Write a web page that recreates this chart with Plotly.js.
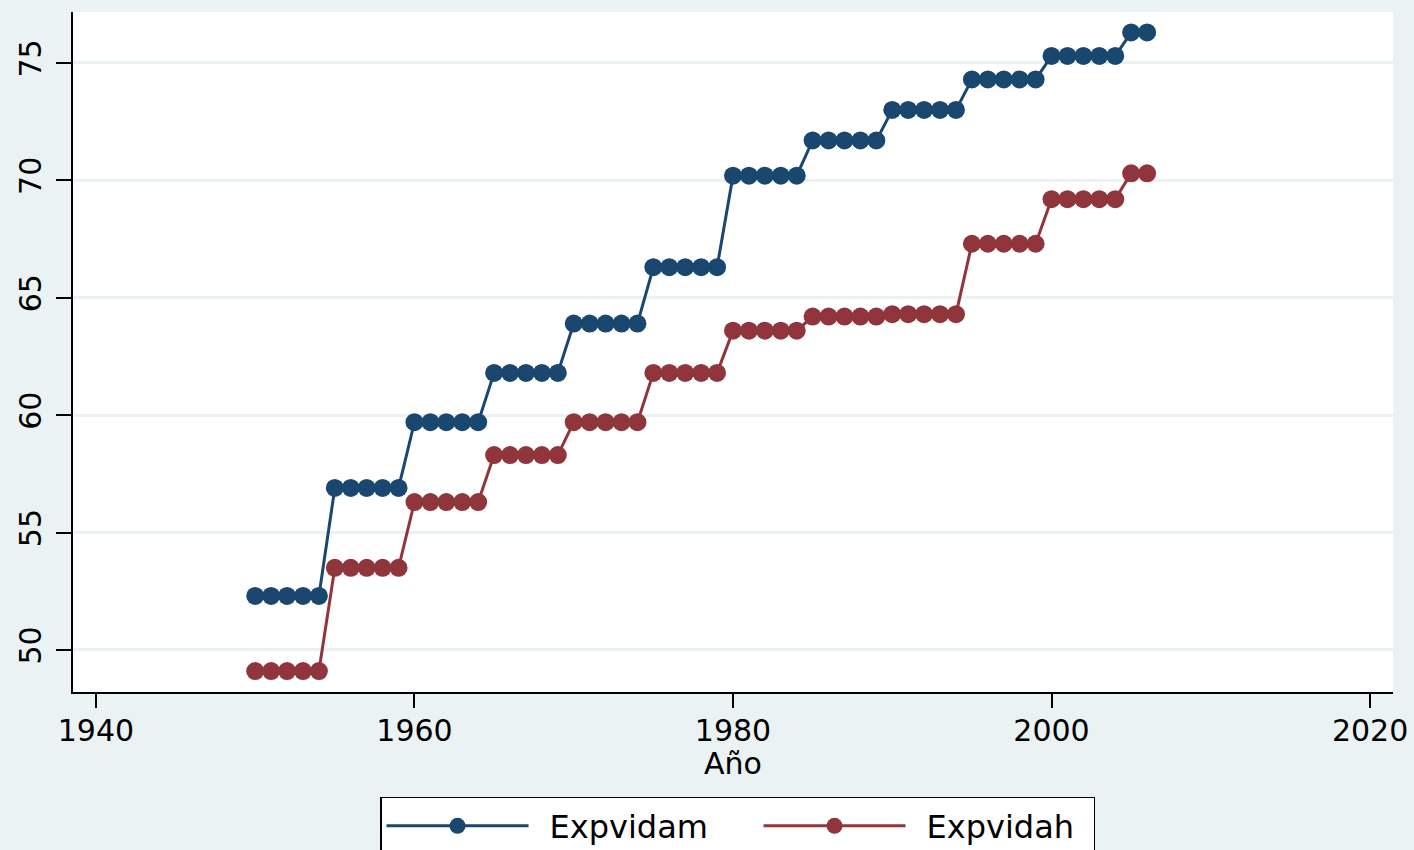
<!DOCTYPE html>
<html><head><meta charset="utf-8">
<script src="https://cdn.plot.ly/plotly-3.0.1.min.js"></script>
<style>html,body{margin:0;padding:0;background:#eaf2f3;} #chart{width:1414px;height:850px;}</style>
</head><body><div id="chart"></div>
<script>
const years = [1950,1951,1952,1953,1954,1955,1956,1957,1958,1959,1960,1961,1962,1963,1964,1965,1966,1967,1968,1969,1970,1971,1972,1973,1974,1975,1976,1977,1978,1979,1980,1981,1982,1983,1984,1985,1986,1987,1988,1989,1990,1991,1992,1993,1994,1995,1996,1997,1998,1999,2000,2001,2002,2003,2004,2005,2006];
const expvidam = [52.3,52.3,52.3,52.3,52.3, 56.9,56.9,56.9,56.9,56.9, 59.7,59.7,59.7,59.7,59.7, 61.8,61.8,61.8,61.8,61.8, 63.9,63.9,63.9,63.9,63.9, 66.3,66.3,66.3,66.3,66.3, 70.2,70.2,70.2,70.2,70.2, 71.7,71.7,71.7,71.7,71.7, 73.0,73.0,73.0,73.0,73.0, 74.3,74.3,74.3,74.3,74.3, 75.3,75.3,75.3,75.3,75.3, 76.3,76.3];
const expvidah = [49.1,49.1,49.1,49.1,49.1, 53.5,53.5,53.5,53.5,53.5, 56.3,56.3,56.3,56.3,56.3, 58.3,58.3,58.3,58.3,58.3, 59.7,59.7,59.7,59.7,59.7, 61.8,61.8,61.8,61.8,61.8, 63.6,63.6,63.6,63.6,63.6, 64.2,64.2,64.2,64.2,64.2, 64.3,64.3,64.3,64.3,64.3, 67.3,67.3,67.3,67.3,67.3, 69.2,69.2,69.2,69.2,69.2, 70.3,70.3];
const seriesNames = ['Expvidam', 'Expvidah'];
const xTickVals = [1940, 1960, 1980, 2000, 2020];
const xTickText = ['1940', '1960', '1980', '2000', '2020'];
const yTickVals = [50, 55, 60, 65, 70, 75];
const yTickText = ['50', '55', '60', '65', '70', '75'];
const xTitle = 'Año';

const FONT = 'DejaVu Sans, Liberation Sans, Arial, sans-serif';
const BLUE = '#1a476f', RED = '#90353b', BG = '#eaf2f3';
const GAP = '\u2002';

const traces = [
  {x: years, y: expvidam, name: GAP + seriesNames[0], type: 'scatter', mode: 'lines+markers', legendwidth: 220,
   line: {color: BLUE, width: 3}, marker: {color: BLUE, size: 18, line: {width: 0}}},
  {x: years, y: expvidah, name: GAP + seriesNames[1], type: 'scatter', mode: 'lines+markers', legendwidth: 178,
   line: {color: RED, width: 3}, marker: {color: RED, size: 18, line: {width: 0}}}
];

const layout = {
  width: 1414, height: 850,
  margin: {l: 73, r: 21, t: 12, b: 158, pad: 0, autoexpand: false},
  paper_bgcolor: BG, plot_bgcolor: '#ffffff',
  font: {family: FONT, size: 30, color: '#000'},
  showlegend: true,
  xaxis: {
    range: [1938.56, 2021.44], tickmode: 'array', tickvals: xTickVals, ticktext: xTickText,
    showgrid: false, zeroline: false, showline: true, linecolor: '#000', linewidth: 2,
    ticks: 'outside', ticklen: 14, tickwidth: 2, tickcolor: '#000', ticklabelstandoff: -3,
    tickfont: {family: FONT, size: 30, color: '#000'},
    automargin: false
  },
  yaxis: {
    range: [48.21, 77.17], tickmode: 'array', tickvals: yTickVals, ticktext: yTickText,
    showgrid: true, gridcolor: BG, gridwidth: 3, zeroline: false,
    showline: true, linecolor: '#000', linewidth: 2,
    ticks: 'outside', ticklen: 15, tickwidth: 2, tickcolor: '#000', ticklabelstandoff: 3,
    tickangle: -90, tickfont: {family: FONT, size: 30, color: '#000'},
    automargin: false
  },
  annotations: [
    {text: xTitle, xref: 'paper', yref: 'paper', x: 0.5, y: 0, xanchor: 'center', yanchor: 'middle',
     yshift: -71, showarrow: false, font: {family: FONT, size: 30, color: '#000'}}
  ],
  legend: {
    orientation: 'h', x: 0.2326, xanchor: 'left', y: -0.1544, yanchor: 'top',
    bgcolor: '#ffffff', bordercolor: '#000', borderwidth: 1.5,
    font: {family: FONT, size: 32, color: '#000'}, itemwidth: 142
  }
};

Plotly.newPlot('chart', traces, layout, {displayModeBar: false, staticPlot: true});
</script>
</body></html>
